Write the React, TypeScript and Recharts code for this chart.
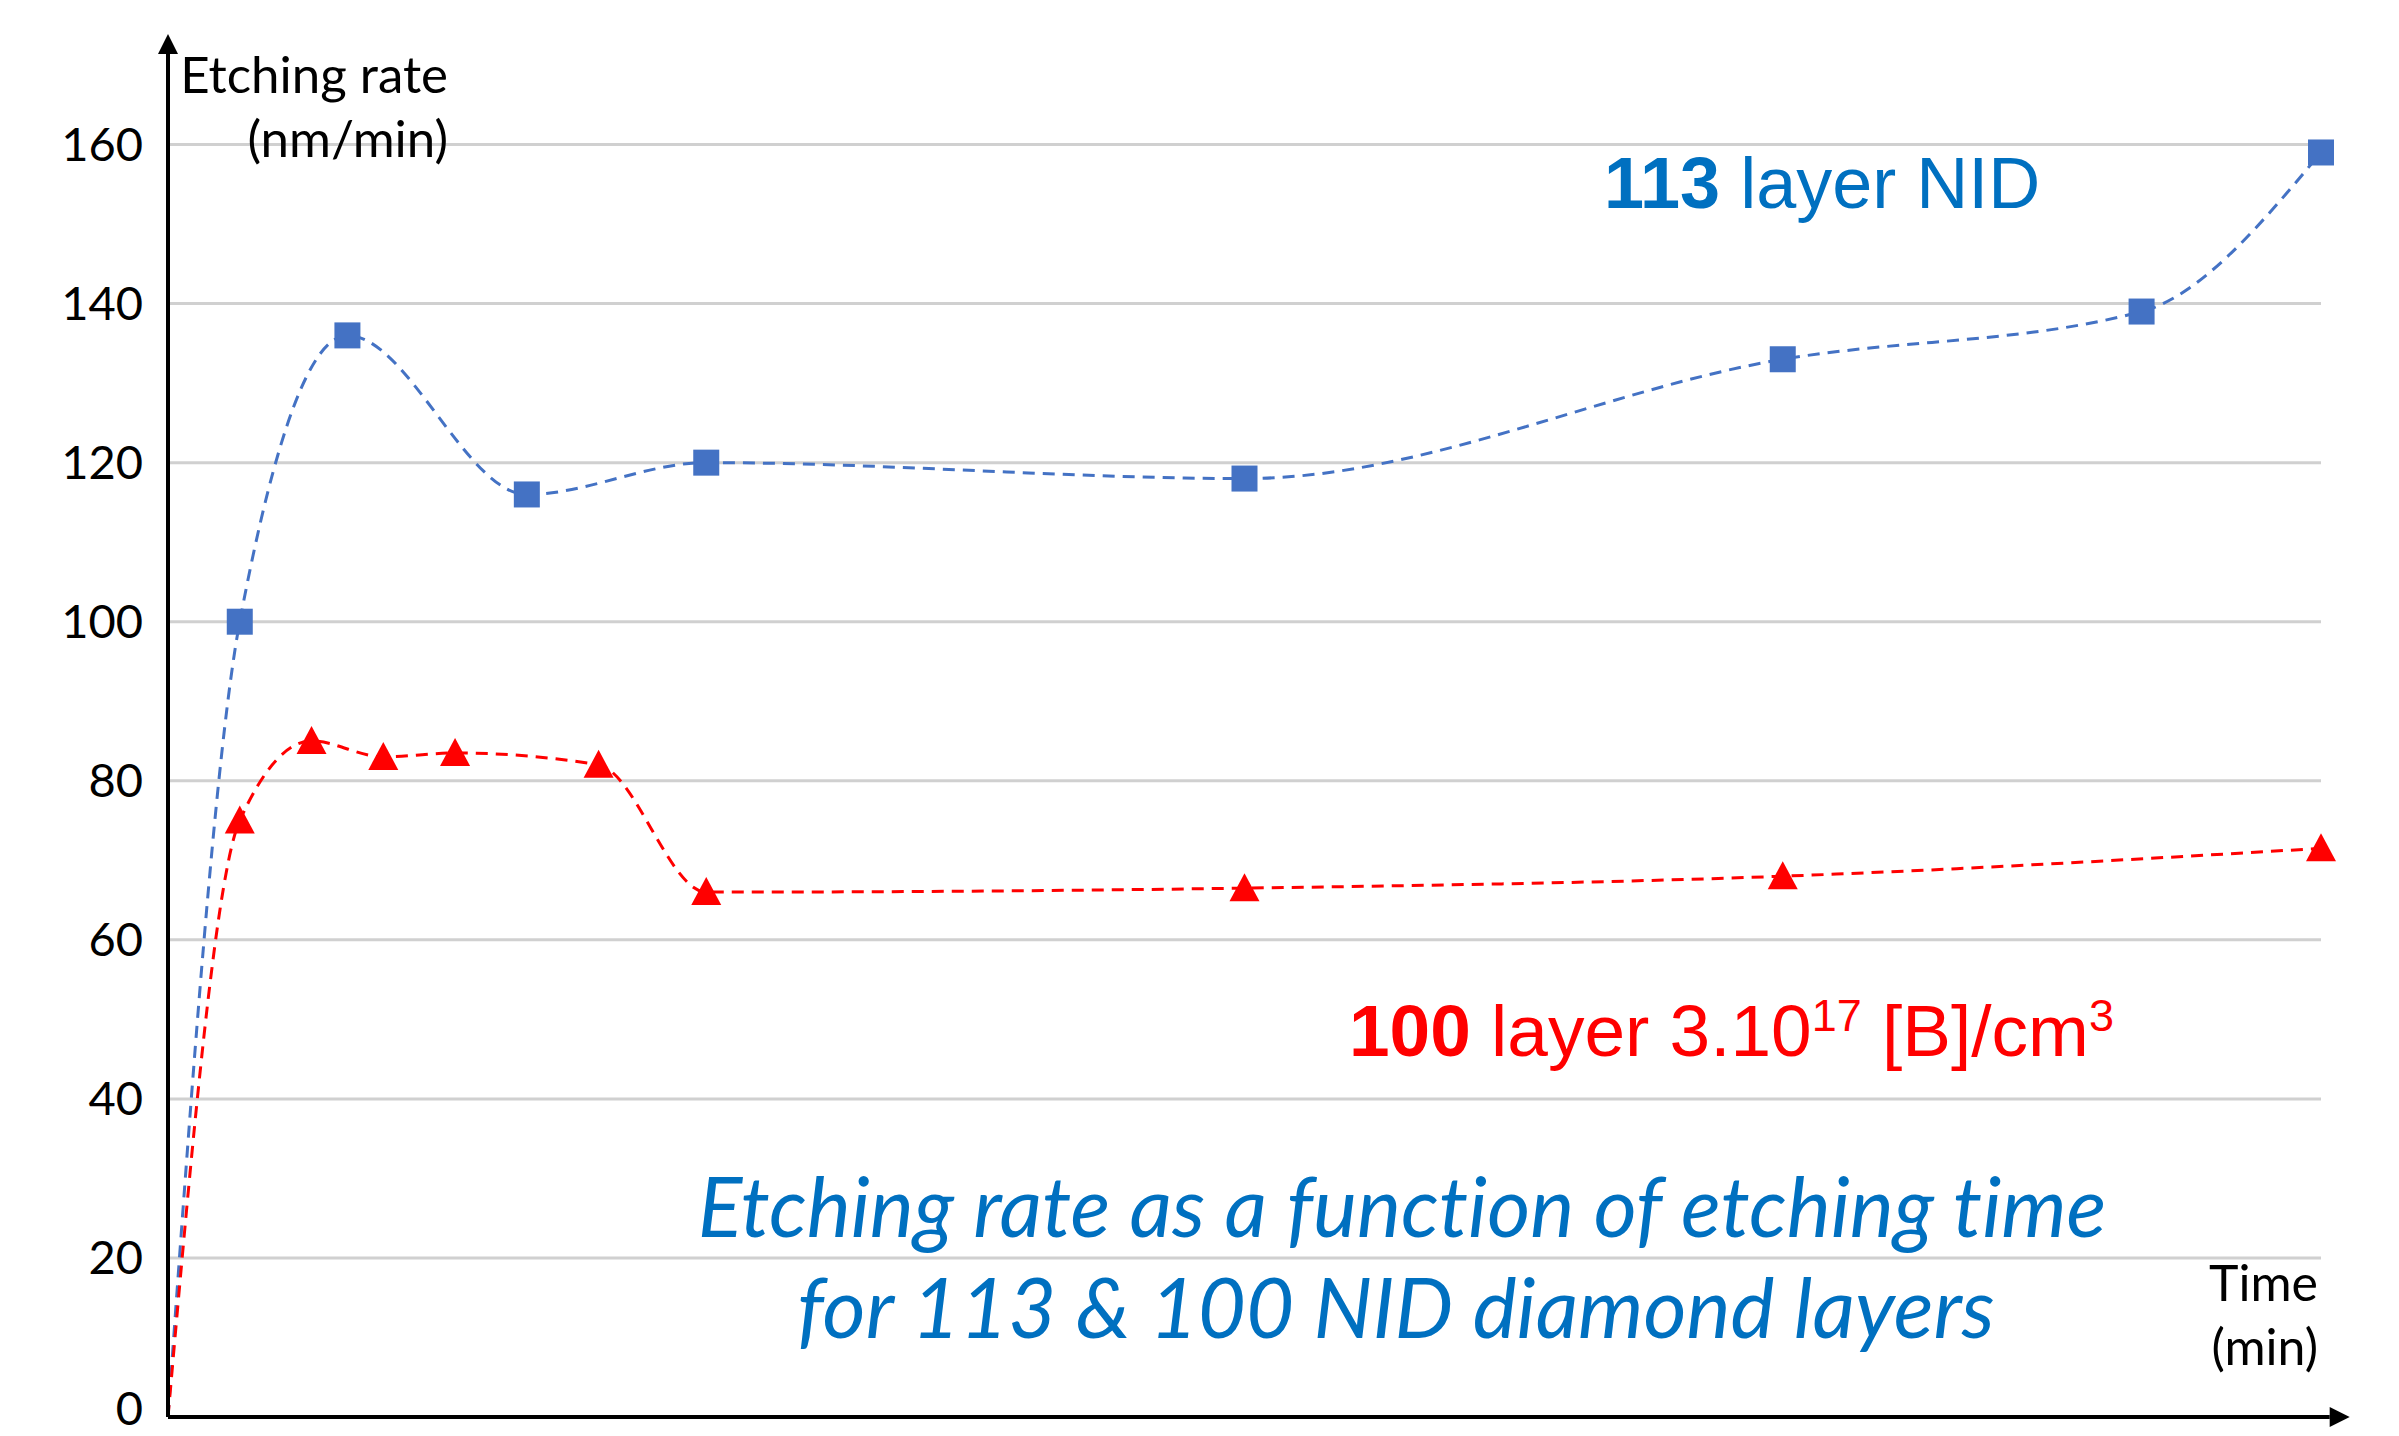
import React from 'react';
import {
  LineChart,
  CartesianGrid,
  XAxis,
  YAxis,
  Line,
  ReferenceLine,
} from 'recharts';

// etching time (min) and etching rate (nm/min)
const time113 = [0, 2, 5, 10, 15, 30, 45, 55, 60];
const rate113 = [0, 100, 136, 116, 120, 118, 133, 139, 159];
const time100 = [0, 2, 4, 6, 8, 12, 15, 30, 45, 60];
const rate100 = [0, 75, 85, 83, 83.5, 82, 66, 66.5, 68, 71.5];

const xTicks = [0, 10, 20, 30, 40, 50, 60];
const yTicks = [0, 20, 40, 60, 80, 100, 120, 140, 160];

const data113 = time113.map((t, i) => ({ t, rate: rate113[i] }));
const data100 = time100.map((t, i) => ({ t, rate: rate100[i] }));

const BLUE_TEXT = '#0070C0';
const BLUE = '#4472C4';
const RED = '#FF0000';
const FONT = 'Lato, "Open Sans", sans-serif';

const SquareDot = (props: any) => {
  const { cx, cy, index } = props;
  if (index === 0 || cx == null) return <g key={`s-${index}`} />;
  return <rect key={`s-${index}`} x={cx - 13} y={cy - 13} width={26} height={26} fill={BLUE} />;
};

const TriangleDot = (props: any) => {
  const { cx, cy, index } = props;
  if (index === 0 || cx == null) return <g key={`t-${index}`} />;
  return (
    <polygon
      key={`t-${index}`}
      points={`${cx},${cy - 15} ${cx + 15},${cy + 13} ${cx - 15},${cy + 13}`}
      fill={RED}
    />
  );
};

const Arrow = (props: any) => {
  const { x1, y1, x2, y2 } = props;
  const len = Math.hypot(x2 - x1, y2 - y1) || 1;
  const ux = (x2 - x1) / len;
  const uy = (y2 - y1) / len;
  const head = 20;
  const half = 10;
  const bx = x2 - ux * head;
  const by = y2 - uy * head;
  return (
    <g>
      <line x1={x1} y1={y1} x2={bx} y2={by} stroke="#000" strokeWidth={4} />
      <polygon
        points={`${x2},${y2} ${bx - uy * half},${by + ux * half} ${bx + uy * half},${by - ux * half}`}
        fill="#000"
      />
    </g>
  );
};

const YTick = (props: any) => {
  const { x, y, payload } = props;
  // the 0 label sits on the bottom edge, nudge it up a little
  const shift = payload.value === 0 ? -8 : 0;
  return (
    <text
      x={x}
      y={y + shift}
      dy="0.35em"
      textAnchor="end"
      fontFamily={FONT}
      fontSize={47}
      fill="#000"
    >
      {payload.value}
    </text>
  );
};

const App = () => (
  <div style={{ position: 'absolute', left: 0, top: 0, width: 2399, height: 1436, background: '#fff' }}>
    <LineChart
      width={2399}
      height={1436}
      margin={{ top: 65, right: 78, left: 0, bottom: 18 }}
    >
      <CartesianGrid
        stroke="#d0d0d0"
        strokeWidth={3}
        horizontalValues={yTicks}
        verticalValues={xTicks}
      />
      <XAxis
        type="number"
        dataKey="t"
        domain={[0, 60]}
        ticks={xTicks}
        tick={false}
        tickLine={false}
        axisLine={false}
        height={1}
      />
      <YAxis
        type="number"
        domain={[0, 170]}
        ticks={yTicks}
        interval={0}
        width={168}
        axisLine={false}
        tickLine={false}
        tickSize={0}
        tickMargin={25}
        tick={<YTick />}
      />
      <Line
        data={data113}
        dataKey="rate"
        type="monotone"
        stroke={BLUE}
        strokeWidth={3}
        strokeDasharray="12 8"
        dot={SquareDot}
        activeDot={false}
        isAnimationActive={false}
      />
      <Line
        data={data100}
        dataKey="rate"
        type="monotone"
        stroke={RED}
        strokeWidth={3}
        strokeDasharray="12 8"
        dot={TriangleDot}
        activeDot={false}
        isAnimationActive={false}
      />
      <ReferenceLine
        segment={[{ x: 0, y: 0 }, { x: 0, y: 173.9 }]}
        ifOverflow="visible"
        shape={Arrow}
      />
      <ReferenceLine
        segment={[{ x: 0, y: 0 }, { x: 60.8, y: 0 }]}
        ifOverflow="visible"
        shape={Arrow}
      />

      <text fontFamily={FONT} fontSize={51} fill="#000" textAnchor="end">
        <tspan x={448} y={93}>Etching rate</tspan>
        <tspan x={448} y={157}>(nm/min)</tspan>
      </text>
      <text fontFamily={FONT} fontSize={50} fill="#000" textAnchor="end">
        <tspan x={2318} y={1301}>Time</tspan>
        <tspan x={2318} y={1365}>(min)</tspan>
      </text>

      <text x={1604} y={208} fontFamily='"Liberation Sans", Arial, sans-serif' fontSize={72} fill={BLUE_TEXT}>
        <tspan fontWeight="bold">113</tspan>
        <tspan> layer NID</tspan>
      </text>

      <text x={1349} y={1056} fontFamily='"Liberation Sans", Arial, sans-serif' fontSize={73} fill={RED}>
        <tspan fontWeight="bold">100</tspan>
        <tspan> layer 3.10</tspan>
        <tspan fontSize={45} dy={-25}>17</tspan>
        <tspan dy={25}> [B]/cm</tspan>
        <tspan fontSize={45} dy={-25}>3</tspan>
      </text>

      <text
        fontFamily={FONT}
        fontStyle="italic"
        fontSize={83}
        fill={BLUE_TEXT}
        textAnchor="middle"
        style={{ fontVariantLigatures: 'none' }}
      >
        <tspan x={1402} y={1237}>Etching rate as a function of etching time</tspan>
        <tspan x={1396} y={1338}>for 113 &amp; 100 NID diamond layers</tspan>
      </text>
    </LineChart>
  </div>
);

export default App;
